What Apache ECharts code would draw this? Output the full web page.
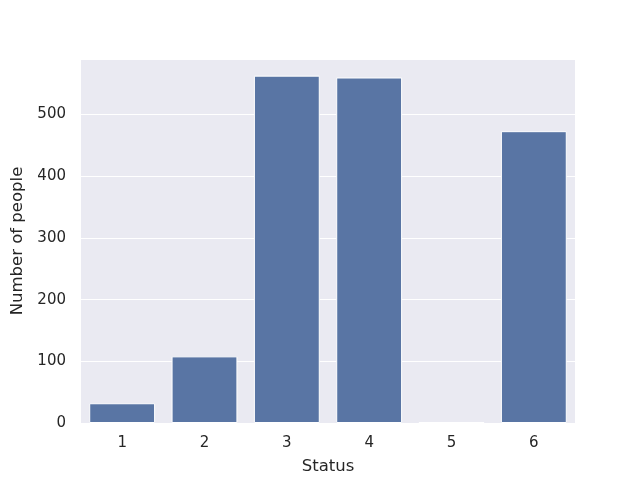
<!DOCTYPE html>
<html><head><meta charset="utf-8">
<script src="https://cdn.jsdelivr.net/npm/echarts@6/dist/echarts.min.js"></script>
<style>html,body{margin:0;padding:0;background:#fff}#c{width:640px;height:480px}</style>
</head><body><div id="c"></div>
<script>
const categories = ['1', '2', '3', '4', '5', '6'];
const counts = [32, 108, 563, 560, 1, 473];
const yMax = 590;

const chart = echarts.init(document.getElementById('c'), null, {renderer: 'canvas'});
const font = 'DejaVu Sans';
chart.setOption({
  animation: false,
  backgroundColor: '#ffffff',
  grid: {left: 81, right: 65, top: 59, bottom: 54, show: true, backgroundColor: '#EAEAF2', borderWidth: 0},
  xAxis: {
    type: 'category', data: categories,
    name: 'Status', nameLocation: 'middle', nameGap: 35,
    nameTextStyle: {fontFamily: font, fontSize: 16.5, color: '#262626'},
    axisLine: {show: false}, axisTick: {show: false},
    axisLabel: {fontFamily: font, fontSize: 15, color: '#262626', margin: 13},
    splitLine: {show: false}
  },
  yAxis: {
    type: 'value', min: 0, max: yMax, interval: 100,
    name: 'Number of people', nameLocation: 'middle', nameGap: 46,
    nameTextStyle: {fontFamily: font, fontSize: 16.5, color: '#262626'},
    axisLine: {show: false}, axisTick: {show: false},
    axisLabel: {fontFamily: font, fontSize: 15, color: '#262626', margin: 15, showMaxLabel: false},
    splitLine: {show: true, lineStyle: {color: '#ffffff', width: 1}}
  },
  series: [{
    type: 'bar', data: counts, barWidth: '80%',
    itemStyle: {color: '#5975A4', borderColor: '#ffffff', borderWidth: 1}
  }]
});
</script></body></html>
